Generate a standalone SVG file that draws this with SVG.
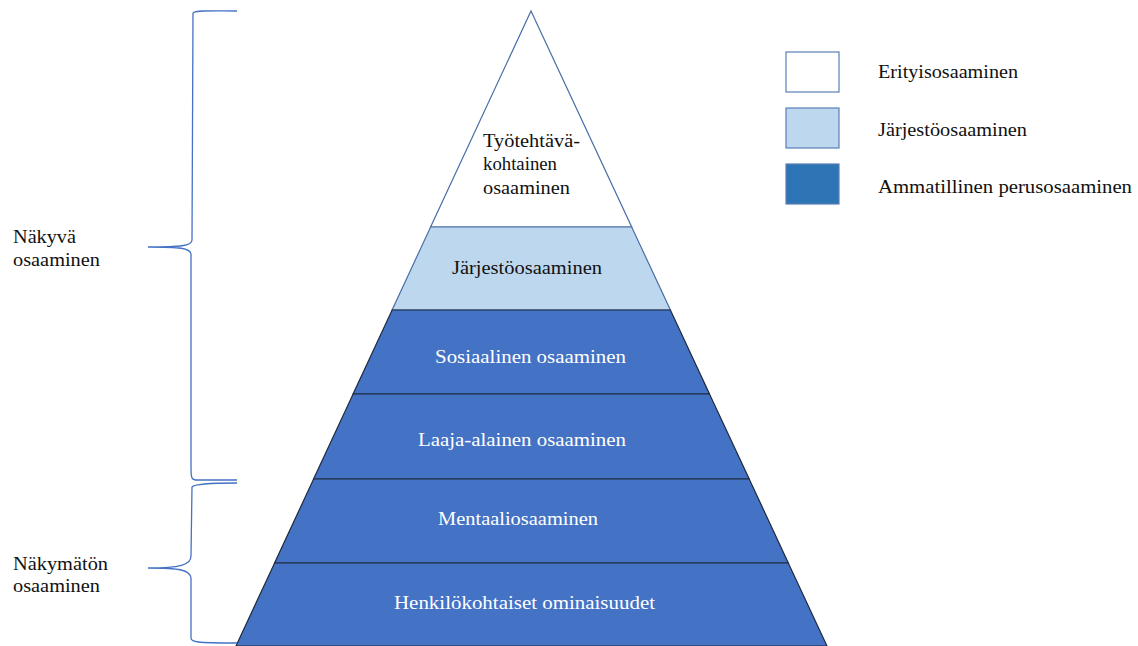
<svg xmlns="http://www.w3.org/2000/svg" width="1138" height="646" viewBox="0 0 1138 646">
<style>
text{font-family:"Liberation Serif","Times New Roman",serif;font-size:19px;lengthAdjust:spacingAndGlyphs}
.w{fill:#ffffff}
.k{fill:#111111}
.dark{fill:#4472C4;stroke:#1f2a3c;stroke-width:1.2}
.brace{fill:none;stroke:#4472C4;stroke-width:1.3}
</style>
<rect width="1138" height="646" fill="#ffffff"/>
<g id="layer-tyotehtava">
<polygon points="531,11 631.7,227 430.6,227" fill="#ffffff" stroke="#4a6fa5" stroke-width="1.2"/>
<text class="k" x="483" y="147" textLength="97" lengthAdjust="spacingAndGlyphs">Työtehtävä-</text>
<text class="k" x="483" y="170" textLength="74" lengthAdjust="spacingAndGlyphs">kohtainen</text>
<text class="k" x="483" y="194" textLength="87" lengthAdjust="spacingAndGlyphs">osaaminen</text>
</g>
<g id="layer-jarjesto">
<polygon points="430.6,227 631.7,227 670.4,310 392.1,310" fill="#BDD7EE" stroke="#4a6fa5" stroke-width="1.2"/>
<text class="k" x="452" y="274" textLength="150" lengthAdjust="spacingAndGlyphs">Järjestöosaaminen</text>
</g>
<g id="layer-sosiaalinen">
<polygon class="dark" points="392.1,310 670.4,310 709.5,394 353.1,394"/>
<text class="w" x="435" y="363" textLength="191" lengthAdjust="spacingAndGlyphs">Sosiaalinen  osaaminen</text>
</g>
<g id="layer-laaja">
<polygon class="dark" points="353.1,394 709.5,394 749.2,479 313.6,479"/>
<text class="w" x="418" y="446" textLength="208" lengthAdjust="spacingAndGlyphs">Laaja-alainen  osaaminen</text>
</g>
<g id="layer-mentaali">
<polygon class="dark" points="313.6,479 749.2,479 788.3,563 274.6,563"/>
<text class="w" x="438" y="525" textLength="160" lengthAdjust="spacingAndGlyphs">Mentaaliosaaminen</text>
</g>
<g id="layer-henkilo">
<polygon class="dark" points="274.6,563 788.3,563 827,646 236,646"/>
<text class="w" x="394" y="609" textLength="261" lengthAdjust="spacingAndGlyphs">Henkilökohtaiset  ominaisuudet</text>
</g>
<g id="brace-nakyva">
<path class="brace" d="M237,11 C215,11 195,10 193,13 L192,240 C192,246 180,247 148,247 C180,247 190,248 191,254 L191,466 C191,476 191,480 196,480 L237,480"/>
<text class="k" x="13" y="243" textLength="63" lengthAdjust="spacingAndGlyphs">Näkyvä</text>
<text class="k" x="13" y="266" textLength="87" lengthAdjust="spacingAndGlyphs">osaaminen</text>
</g>
<g id="brace-nakymaton">
<path class="brace" d="M237,483 C210,483 194,484 192,487 L191,556 C191,565 180,568 148,568 C180,568 190,570 191,578 L191,638 C191,642 195,643 237,643"/>
<text class="k" x="13" y="570" textLength="95" lengthAdjust="spacingAndGlyphs">Näkymätön</text>
<text class="k" x="13" y="592" textLength="87" lengthAdjust="spacingAndGlyphs">osaaminen</text>
</g>
<g id="legend">
<rect x="786" y="52" width="53" height="40" fill="#ffffff" stroke="#5a7fb5" stroke-width="1.2"/>
<text class="k" x="878" y="78" textLength="140" lengthAdjust="spacingAndGlyphs">Erityisosaaminen</text>
<rect x="786" y="108" width="53" height="40" fill="#BDD7EE" stroke="#5a7fb5" stroke-width="1.2"/>
<text class="k" x="878" y="136" textLength="149" lengthAdjust="spacingAndGlyphs">Järjestöosaaminen</text>
<rect x="786" y="164" width="53" height="40" fill="#2E75B6" stroke="#5a7fb5" stroke-width="1.2"/>
<text class="k" x="878" y="193" textLength="254" lengthAdjust="spacingAndGlyphs">Ammatillinen  perusosaaminen</text>
</g>
</svg>
